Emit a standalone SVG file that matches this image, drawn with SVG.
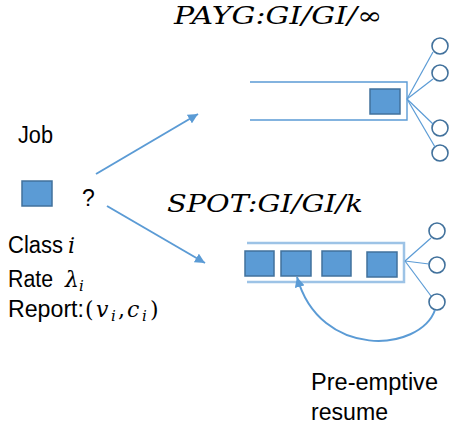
<svg xmlns="http://www.w3.org/2000/svg" width="457" height="430" viewBox="0 0 457 430">
<defs>
<style>
.sans{font-family:"Liberation Sans",Arial,sans-serif;font-size:23px;fill:#000}
.math{font-family:"DejaVu Serif","Liberation Serif",serif;font-style:italic;fill:#000}
.up{font-style:normal}
.job{fill:#5b9bd5;stroke:#41719c;stroke-width:1.5}
.srv{fill:#fff;stroke:#41719c;stroke-width:1.6}
.thin{stroke:#5b9bd5;stroke-width:1.2;fill:none}
.arr{stroke:#5b9bd5;stroke-width:2;fill:none}
</style>
<marker id="ah" viewBox="0 0 10 10" refX="10" refY="5" markerWidth="5" markerHeight="5" orient="auto" markerUnits="strokeWidth">
<path d="M0,0 L10,5 L0,10 z" fill="#5b9bd5"/>
</marker>
</defs>
<rect width="457" height="430" fill="#fff"/>

<g id="titles">
<text class="math" x="174" y="24" font-size="24" textLength="208" lengthAdjust="spacingAndGlyphs">PAYG:GI/GI/<tspan class="up">∞</tspan></text>
<text class="math" x="167" y="212" font-size="24" textLength="196" lengthAdjust="spacingAndGlyphs">SPOT:GI/GI/k</text>
</g>

<g id="job">
<text class="sans" x="18" y="143" textLength="35" lengthAdjust="spacingAndGlyphs">Job</text>
<rect class="job" x="22" y="181" width="30" height="25"/>
<text class="sans" x="82" y="206">?</text>
<text class="sans" x="8" y="253" textLength="55" lengthAdjust="spacingAndGlyphs">Class</text>
<text class="math" x="68" y="253" font-size="22">i</text>
<text class="sans" x="8" y="287" textLength="45" lengthAdjust="spacingAndGlyphs">Rate</text>
<text class="math" x="65" y="287" font-size="22">λ</text>
<text class="math" x="79" y="291" font-size="15">i</text>
<text class="sans" x="8" y="317" textLength="76" lengthAdjust="spacingAndGlyphs">Report:</text>
<text class="math up" x="85" y="317" font-size="22">(</text>
<text class="math" x="96" y="317" font-size="22">v</text>
<text class="math" x="111" y="321" font-size="15">i</text>
<text class="math up" x="118" y="317" font-size="22">,</text>
<text class="math" x="127" y="317" font-size="22">c</text>
<text class="math" x="142" y="321" font-size="15">i</text>
<text class="math up" x="150" y="317" font-size="22">)</text>
</g>

<g id="payg-queue">
<path d="M250,82 H407 V120 H250" fill="none" stroke="#5b9bd5" stroke-width="1.4"/>
<rect class="job" x="370" y="89" width="30" height="25"/>
</g>

<g id="payg-servers">
<circle class="srv" cx="440" cy="46" r="8"/>
<circle class="srv" cx="440" cy="73" r="8"/>
<circle class="srv" cx="440" cy="128" r="8"/>
<circle class="srv" cx="440" cy="153" r="8"/>
</g>

<g id="spot-queue">
<path d="M247,243 H404 V282 H247" fill="none" stroke="#9dc3e6" stroke-width="2.5"/>
<rect class="job" x="245" y="251" width="29" height="25"/>
<rect class="job" x="281" y="251" width="30" height="25"/>
<rect class="job" x="322" y="251" width="29" height="25"/>
<rect class="job" x="367" y="252" width="30" height="25"/>
</g>

<g id="spot-servers">
<circle class="srv" cx="437" cy="231" r="8"/>
<circle class="srv" cx="437" cy="265" r="8"/>
<circle class="srv" cx="437" cy="302" r="8"/>
</g>

<g id="label-preempt">
<text class="sans" x="311" y="390" textLength="127" lengthAdjust="spacingAndGlyphs">Pre-emptive</text>
<text class="sans" x="311" y="420" textLength="77" lengthAdjust="spacingAndGlyphs">resume</text>
</g>

<g id="connectors">
<line class="arr" x1="96" y1="174" x2="198" y2="114" marker-end="url(#ah)"/>
<line class="arr" x1="107" y1="206" x2="205" y2="263" marker-end="url(#ah)"/>
<line class="thin" x1="407" y1="99" x2="433" y2="52"/>
<line class="thin" x1="407" y1="99" x2="433" y2="79"/>
<line class="thin" x1="407" y1="99" x2="433" y2="124"/>
<line class="thin" x1="407" y1="99" x2="435" y2="147"/>
<line class="thin" x1="405" y1="261" x2="431" y2="238"/>
<line class="thin" x1="405" y1="261" x2="429" y2="264"/>
<line class="thin" x1="405" y1="261" x2="431" y2="296"/>
<path class="arr" d="M435,310 C420,352 320,360 297,277" marker-end="url(#ah)"/>
</g>
</svg>
